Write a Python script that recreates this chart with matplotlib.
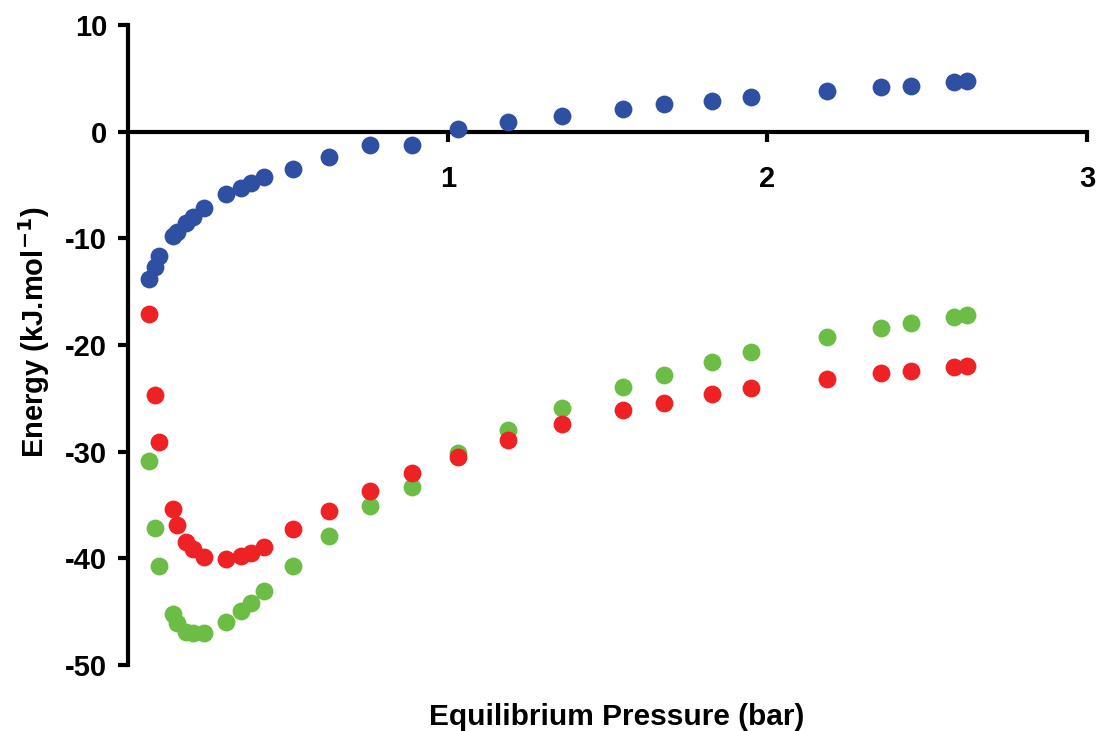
import matplotlib
matplotlib.use('Agg')
import matplotlib.pyplot as plt

# equilibrium pressure (bar), shared by all three series
pressure = [0.066, 0.084, 0.097, 0.141, 0.153, 0.181, 0.203, 0.237, 0.306, 0.353,
            0.384, 0.425, 0.516, 0.628, 0.756, 0.888, 1.031, 1.188, 1.359, 1.547,
            1.678, 1.828, 1.950, 2.188, 2.356, 2.450, 2.584, 2.625]

# energies (kJ/mol)
blue = [-13.8, -12.7, -11.7, -9.8, -9.4, -8.6, -8.0, -7.2, -5.9, -5.25,
        -4.8, -4.3, -3.5, -2.4, -1.3, -1.3, 0.2, 0.85, 1.5, 2.1,
        2.6, 2.9, 3.2, 3.8, 4.2, 4.3, 4.6, 4.7]
red = [-17.1, -24.7, -29.1, -35.4, -36.9, -38.5, -39.1, -39.9, -40.1, -39.8,
       -39.5, -38.9, -37.3, -35.6, -33.7, -32.0, -30.5, -28.9, -27.4, -26.1,
       -25.4, -24.6, -24.0, -23.2, -22.6, -22.4, -22.1, -21.95]
green = [-30.9, -37.2, -40.7, -45.2, -46.1, -46.9, -47.0, -47.0, -46.0, -44.9,
         -44.2, -43.1, -40.7, -37.9, -35.1, -33.3, -30.1, -28.0, -25.9, -23.9,
         -22.8, -21.6, -20.7, -19.3, -18.4, -17.9, -17.4, -17.2]

plt.rcParams['font.family'] = ['Liberation Sans', 'DejaVu Sans']
plt.rcParams['font.weight'] = 'bold'
plt.rcParams['axes.unicode_minus'] = False

fig = plt.figure(figsize=(10.98, 7.31), dpi=100)
ax = fig.add_axes([0.1166, 0.0903, 0.8734, 0.8757])

ms = 165
ax.scatter(pressure, green, s=ms, color='#6bbd45', zorder=3, linewidths=0)
ax.scatter(pressure, red, s=ms, color='#ee2224', zorder=3, linewidths=0)
ax.scatter(pressure, blue, s=ms, color='#2f4fa2', zorder=3, linewidths=0)

ax.set_xlim(0, 3)
ax.set_ylim(-50, 10)
ax.set_xticks([1, 2, 3])
ax.set_yticks(range(-50, 11, 10))

# axes crossing at zero, like the original
ax.spines['bottom'].set_position(('data', 0))
ax.spines['top'].set_visible(False)
ax.spines['right'].set_visible(False)
for s in ['left', 'bottom']:
    ax.spines[s].set_linewidth(3)
ax.tick_params(axis='both', direction='out', length=7, width=3, labelsize=21)
ax.tick_params(axis='x', pad=17)
ax.tick_params(axis='y', pad=8)
for lab in ax.get_xticklabels() + ax.get_yticklabels():
    lab.set_fontweight('bold')

fig.text(617 / 1098, 1 - 717 / 731, 'Equilibrium Pressure (bar)', ha='center', va='center',
         fontsize=21.5, fontweight='bold')
fig.text(34 / 1098, 1 - 332 / 731, 'Energy (kJ.mol$^{\\mathbf{-1}}$)', ha='center', va='center',
         rotation=90, fontsize=21, fontweight='bold')

fig.savefig('out.png', dpi=100)
